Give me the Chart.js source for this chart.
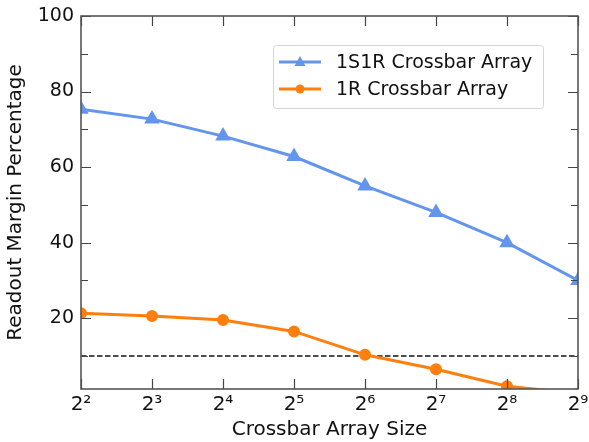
<!DOCTYPE html>
<html>
<head>
<meta charset="utf-8">
<script src="https://cdn.jsdelivr.net/npm/chart.js@4"></script>
<style>
  html, body { margin: 0; padding: 0; background: #fff; }
  #wrap { width: 589px; height: 442px; }
</style>
</head>
<body>
<div id="wrap"><canvas id="myChart" width="589" height="442"></canvas></div>
<script>
// crossbar sizes 2^2 .. 2^9
var sizes = ['2\u00B2', '2\u00B3', '2\u2074', '2\u2075', '2\u2076', '2\u2077', '2\u2078', '2\u2079'];
var oneS1R = [75.3, 72.7, 68.2, 62.8, 55.0, 48.0, 40.0, 30.0];
var oneR = [21.3, 20.6, 19.5, 16.5, 10.3, 6.5, 2.0, 0];
var threshold = [10, 10, 10, 10, 10, 10, 10, 10];
var yMajor = [20, 40, 60, 80, 100];
var yMinor = [10, 30, 50, 70, 90];

var FONT = "'DejaVu Sans', sans-serif";

// spines + inward ticks on all four sides
var frame = {
    id: 'frame',
    afterDraw: function(chart) {
        var c = chart.ctx, a = chart.chartArea;
        var xs = chart.scales.x, ys = chart.scales.y;
        c.save();
        c.strokeStyle = '#444';
        c.lineWidth = 1.2;
        var i, p;
        for (i = 0; i < sizes.length; i++) {
            p = Math.round(xs.getPixelForValue(i)) + 0.5;
            c.beginPath();
            c.moveTo(p, a.bottom); c.lineTo(p, a.bottom - 10);
            c.moveTo(p, a.top); c.lineTo(p, a.top + 10);
            c.stroke();
        }
        var drawY = function(vals, len) {
            for (var j = 0; j < vals.length; j++) {
                var q = Math.round(ys.getPixelForValue(vals[j])) + 0.5;
                c.beginPath();
                c.moveTo(a.left, q); c.lineTo(a.left + len, q);
                c.moveTo(a.right, q); c.lineTo(a.right - len, q);
                c.stroke();
            }
        };
        drawY(yMajor, 10);
        drawY(yMinor, 7);
        c.strokeStyle = '#555';
        c.lineWidth = 1.6;
        c.strokeRect(a.left, a.top, a.right - a.left, a.bottom - a.top);
        c.restore();
    }
};

// legend box inside the plot
var boxLegend = {
    id: 'boxLegend',
    afterDraw: function(chart) {
        var c = chart.ctx;
        var x0 = 273, y0 = 45, w = 270, h = 63;
        c.save();
        c.fillStyle = 'rgba(255,255,255,0.85)';
        c.strokeStyle = '#d6d6d6';
        c.lineWidth = 1;
        c.beginPath();
        c.roundRect(x0 + 0.5, y0 + 0.5, w, h, 3);
        c.fill(); c.stroke();
        var rows = chart.data.datasets.filter(function(d) { return d.inLegend; });
        c.font = '19px ' + FONT;
        c.textBaseline = 'middle';
        rows.forEach(function(d, k) {
            var y = 62 + k * 27;
            c.strokeStyle = d.borderColor;
            c.lineWidth = 3;
            c.beginPath(); c.moveTo(279, y); c.lineTo(321, y); c.stroke();
            c.fillStyle = d.borderColor;
            c.beginPath();
            if (d.pointStyle === 'triangle') {
                c.moveTo(300, y - 6); c.lineTo(305.5, y + 4); c.lineTo(294.5, y + 4); c.closePath();
            } else {
                c.arc(300, y, 4.5, 0, Math.PI * 2);
            }
            c.fill();
            c.fillStyle = '#111';
            c.fillText(d.label, 336, y + 1);
        });
        c.restore();
    }
};

var ctx = document.getElementById('myChart').getContext('2d');
var myChart = new Chart(ctx, {
    type: 'line',
    data: {
        labels: sizes,
        datasets: [{
            label: '1S1R Crossbar Array',
            data: oneS1R,
            borderColor: '#6495ED',
            backgroundColor: '#6495ED',
            borderWidth: 3,
            pointStyle: 'triangle',
            pointRadius: 6,
            inLegend: true,
            clip: 0
        }, {
            label: '1R Crossbar Array',
            data: oneR,
            borderColor: '#FF7F0E',
            backgroundColor: '#FF7F0E',
            borderWidth: 3,
            pointStyle: 'circle',
            pointRadius: 4.5,
            inLegend: true,
            clip: 0
        }, {
            label: 'threshold',
            data: threshold,
            borderColor: '#111',
            borderWidth: 1.6,
            borderDash: [5.5, 2.5],
            pointRadius: 0,
            inLegend: false,
            clip: 0
        }]
    },
    options: {
        responsive: false,
        animation: false,
        layout: { padding: { top: 16, right: 11, left: 0, bottom: 0 } },
        plugins: {
            legend: { display: false },
            tooltip: { enabled: false }
        },
        elements: { line: { tension: 0 } },
        scales: {
            x: {
                type: 'category',
                offset: false,
                grid: { display: false, drawTicks: false },
                border: { display: false },
                ticks: { color: '#111', font: { family: FONT, size: 20 }, padding: 4, maxRotation: 0, autoSkip: false },
                title: { display: true, text: 'Crossbar Array Size', color: '#111', font: { family: FONT, size: 20 }, padding: { top: 0, bottom: 0 } },
                afterFit: function(s) { s.height = 53; s.paddingLeft = 0; s.paddingRight = 0; }
            },
            y: {
                min: 1.25,
                max: 100,
                grid: { display: false, drawTicks: false },
                border: { display: false },
                ticks: {
                    stepSize: 10,
                    color: '#111',
                    padding: 7,
                    font: { family: FONT, size: 19 },
                    callback: function(v) { return yMajor.indexOf(v) >= 0 ? String(v) : ''; }
                },
                title: { display: true, text: 'Readout Margin Percentage', color: '#111', font: { family: FONT, size: 20 }, padding: { top: 4, bottom: 0 } },
                afterFit: function(s) { s.width = 81; s.paddingTop = 0; s.paddingBottom = 0; }
            }
        }
    },
    plugins: [frame, boxLegend]
});
</script>
</body>
</html>
